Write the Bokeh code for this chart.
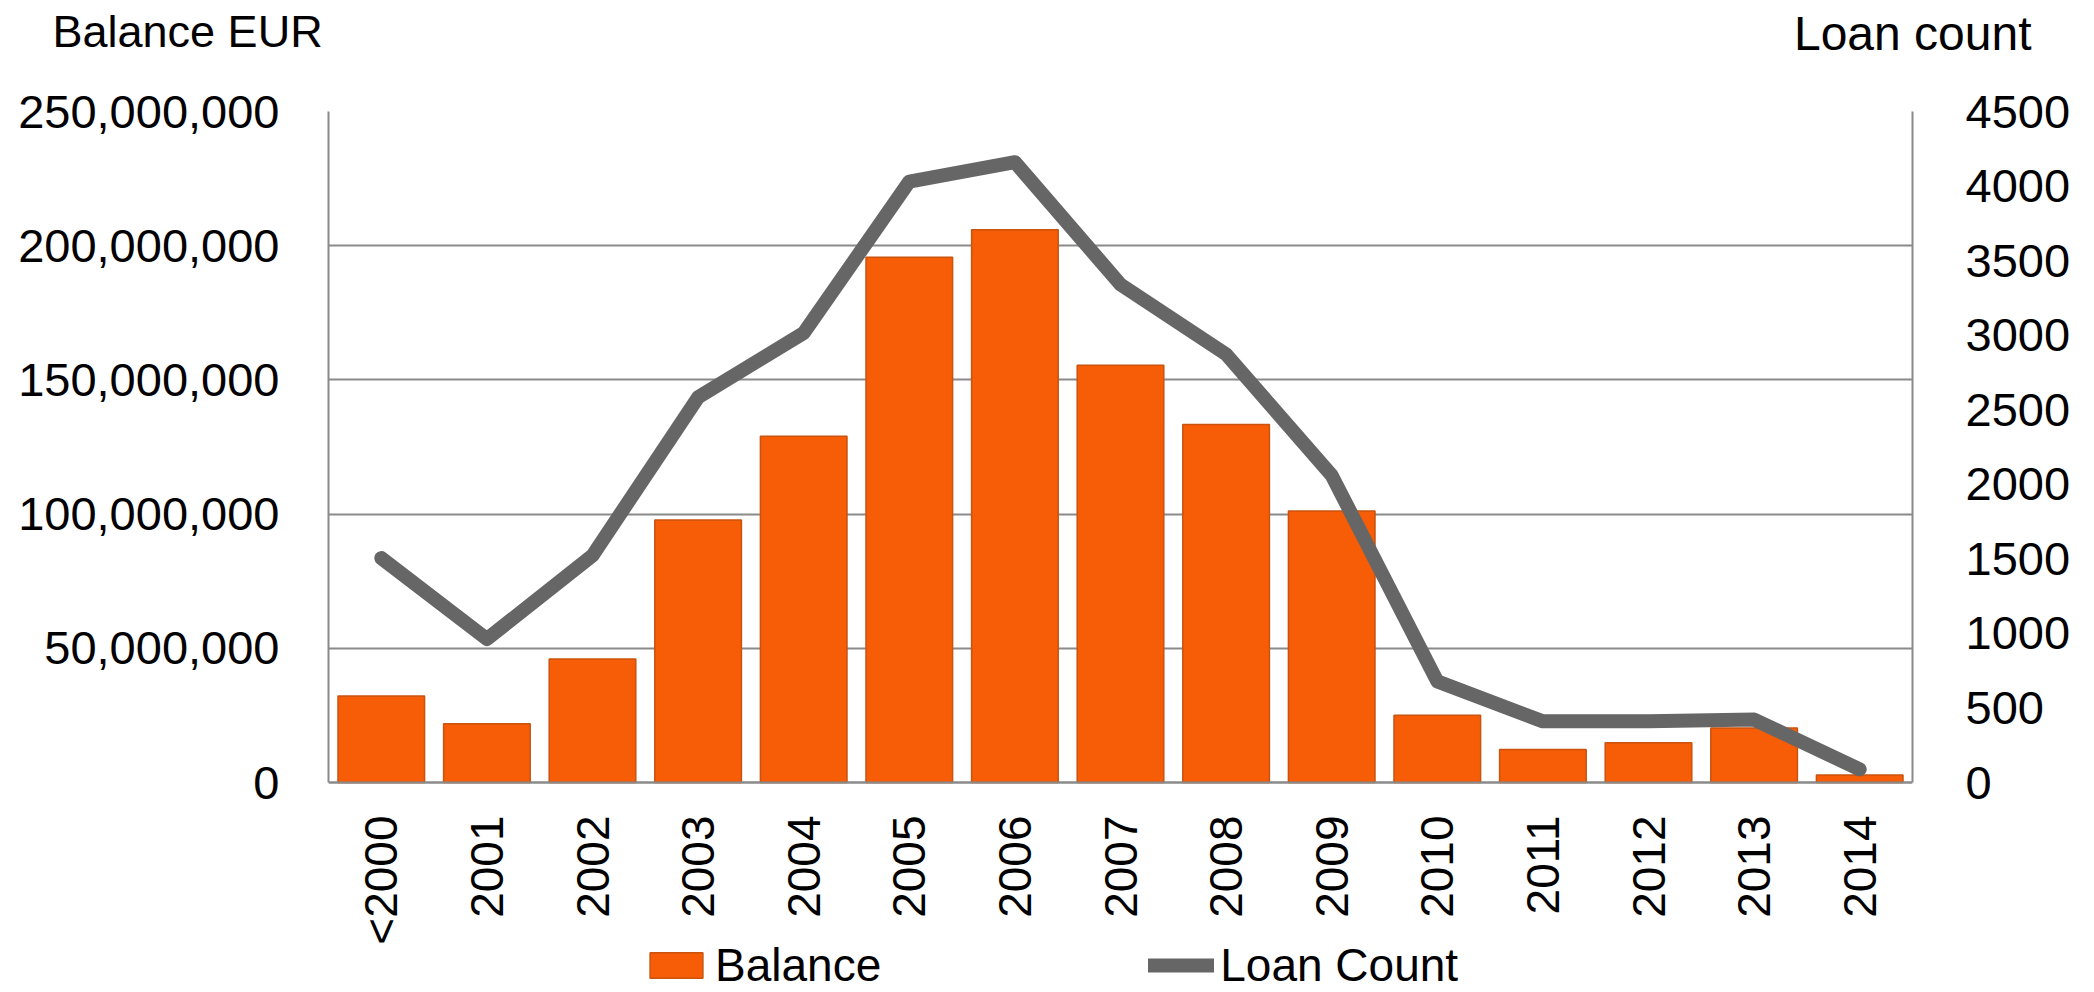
from math import pi

from bokeh.embed import file_html
from bokeh.models import (ColumnDataSource, FactorRange, Label, Legend, LegendItem,
                          LinearAxis, NumeralTickFormatter, Range1d)
from bokeh.plotting import figure
from bokeh.resources import INLINE

# Origination year buckets
years = ["<2000", "2001", "2002", "2003", "2004", "2005", "2006", "2007",
         "2008", "2009", "2010", "2011", "2012", "2013", "2014"]

# Outstanding balance per origination year (EUR)
balance_eur = [32.2e6, 21.9e6, 46.0e6, 97.8e6, 129.0e6, 195.7e6, 205.9e6, 155.5e6,
               133.4e6, 101.2e6, 25.1e6, 12.3e6, 14.8e6, 20.3e6, 2.8e6]

# Number of loans per origination year
loan_count = [1505, 962, 1522, 2583, 3015, 4030, 4160, 3340,
              2872, 2060, 678, 410, 410, 422, 88]

balance_ticks = [0, 50e6, 100e6, 150e6, 200e6, 250e6]
count_ticks = [0, 500, 1000, 1500, 2000, 2500, 3000, 3500, 4000, 4500]

FONT = "'Liberation Sans', Arial, sans-serif"
GRID = "#8A8A8A"

W, H = 2094, 992
LEFT, RIGHT, TOP = 328, 182, 111
PLOT_BOTTOM = 782                 # pixel row of the zero line
FRAME_W = W - LEFT - RIGHT
PLOT_H = PLOT_BOTTOM - TOP        # height of the value area
BELOW_H = H - PLOT_BOTTOM         # room under the zero line for labels + legend

# The frame reaches down to the canvas edge so the category labels and the
# legend live inside it; the value axes are bounded to their real extent.
bal_lo, bal_hi = balance_ticks[0], balance_ticks[-1]
cnt_lo, cnt_hi = count_ticks[0], count_ticks[-1]
bal_start = bal_lo - (bal_hi - bal_lo) * BELOW_H / PLOT_H
cnt_start = cnt_lo - (cnt_hi - cnt_lo) * BELOW_H / PLOT_H


def to_data_x(px):
    """Canvas pixel column -> categorical synthetic x coordinate."""
    return (px - LEFT) / FRAME_W * len(years)


def to_data_y(py):
    """Canvas pixel row -> balance axis value."""
    return bal_hi + (TOP - py) / PLOT_H * (bal_hi - bal_lo)


src = ColumnDataSource(dict(year=years, balance=balance_eur, count=loan_count))

p = figure(width=W, height=H,
           x_range=FactorRange(*years),
           y_range=Range1d(bal_start, bal_hi),
           output_backend="svg", toolbar_location=None,
           min_border_left=LEFT, min_border_right=RIGHT,
           min_border_top=TOP, min_border_bottom=0)
p.extra_y_ranges = {"count": Range1d(cnt_start, cnt_hi)}

p.background_fill_color = "white"
p.border_fill_color = "white"
p.outline_line_color = None

p.xgrid.grid_line_color = None
p.ygrid.ticker = balance_ticks
p.ygrid.grid_line_color = GRID
p.ygrid.grid_line_width = 2

bars = p.vbar(x="year", top="balance", width=0.82, source=src,
              fill_color="#F75D07", line_color="#C9530F", line_width=1.5)
count_line = p.line(x="year", y="count", source=src, y_range_name="count",
                    line_width=14, line_color="#666666",
                    line_cap="round", line_join="round")

# Left axis: balance in EUR
yl = p.yaxis[0]
yl.ticker = balance_ticks
yl.bounds = (bal_lo, bal_hi)
yl.formatter = NumeralTickFormatter(format="0,0")

# Right axis: loan count
yr = LinearAxis(y_range_name="count", ticker=count_ticks, bounds=(cnt_lo, cnt_hi))
p.add_layout(yr, "right")

for ax in (yl, yr):
    ax.major_label_text_font = FONT
    ax.major_label_text_font_size = "47px"
    ax.major_label_text_color = "black"
yl.major_label_standoff = 49
yr.major_label_standoff = 53

# Category axis pinned to the zero line
xa = p.xaxis[0]
xa.fixed_location = 0
xa.major_label_orientation = pi / 2
xa.major_label_text_font = FONT
xa.major_label_text_font_size = "46px"
xa.major_label_text_color = "black"
xa.major_label_standoff = 33

for ax in (yl, yr, xa):
    ax.axis_line_color = GRID
    ax.axis_line_width = 2
    ax.major_tick_line_color = None
    ax.minor_tick_line_color = None
    ax.major_tick_in = 0
    ax.major_tick_out = 0

# Axis titles above the plot area
p.add_layout(Label(x=to_data_x(52), y=to_data_y(31), text="Balance EUR",
                   text_font=FONT, text_font_size="45px", text_baseline="middle",
                   text_align="left", text_color="black"), "above")
p.add_layout(Label(x=to_data_x(2031), y=to_data_y(33), text="Loan count",
                   text_font=FONT, text_font_size="48px", text_baseline="middle",
                   text_align="right", text_color="black"), "above")

legend = Legend(items=[LegendItem(label="Balance", renderers=[bars]),
                       LegendItem(label="Loan Count", renderers=[count_line])],
                location=(315, 0), orientation="horizontal",
                glyph_width=66, glyph_height=32, label_standoff=6, spacing=267,
                padding=0, margin=0, border_line_color=None,
                background_fill_alpha=0,
                label_text_font=FONT, label_text_font_size="46px",
                label_text_color="black")
p.add_layout(legend, "center")

open("out.html", "w").write(file_html(p, INLINE))
